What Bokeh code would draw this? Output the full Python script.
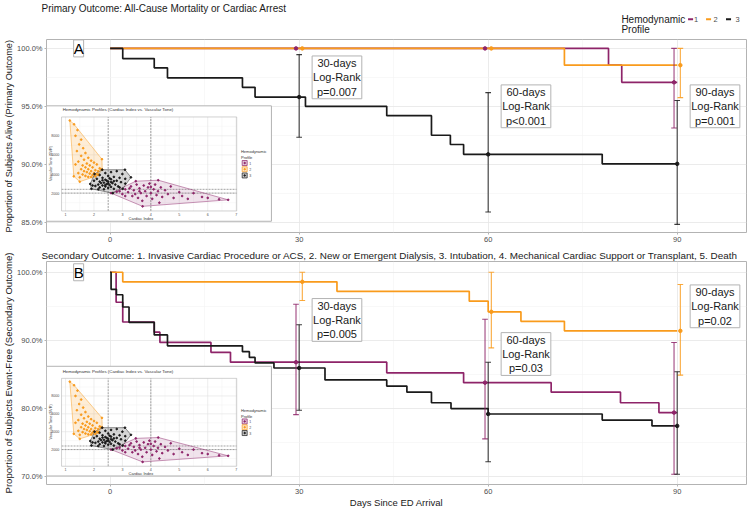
import numpy as np
from bokeh.plotting import figure
from bokeh.layouts import column
from bokeh.models import Range1d, FixedTicker, PrintfTickFormatter, Label
from bokeh.embed import file_html
from bokeh.resources import INLINE
from bokeh.core.properties import value

FONT = "Liberation Sans"
C1, C2, C3 = "#8E2469", "#F99B1C", "#1A1A1A"
GROUP_COLORS = [C1, C2, C3]
GROUP_NAMES = ["1", "2", "3"]

# ---------------- data ----------------
followup_end = 90
x_ticks = [0, 30, 60, 90]
x_minor = [15, 45, 75]
est_days = [30, 60, 90]
dodge = [-0.5, 0.5, 0.0]

# Panel A: primary outcome (KM step times / survival %)
a1_t = [0, 79.1, 81.2]
a1_s = [100, 98.55, 97.07]
a2_t = [0, 72.1]
a2_s = [100, 98.55]
a3_t = [0, 2, 7, 9.1, 21, 23, 31, 43.9, 51, 54, 56.1, 78.1]
a3_s = [100, 99.12, 98.32, 97.46, 96.64, 95.8, 95.0, 94.19, 92.5, 91.7, 90.85, 90.03]
a1_est = [100, 100, 97.07]
a1_lo = [100, 100, 93.13]
a1_hi = [100, 100, 100]
a2_est = [100, 100, 98.55]
a2_lo = [100, 100, 95.75]
a2_hi = [100, 100, 100]
a3_est = [95.8, 90.85, 90.03]
a3_lo = [92.33, 85.87, 84.8]
a3_hi = [99.46, 96.18, 95.5]
a_pvals = ["p=0.007", "p<0.001", "p=0.001"]
a_y_ticks = [85, 90, 95, 100]
a_y_minor = [87.5, 92.5, 97.5]

# Panel B: secondary outcome
b1_t = [0, 0.95, 2, 7, 7.9, 16, 19.1, 43.9, 56.1, 70, 81, 87.1]
b1_s = [100, 95.6, 92.7, 91.2, 89.7, 88.25, 86.8, 85.24, 83.8, 82.4, 80.85, 79.4]
b2_t = [0, 2, 36, 57, 60, 65.2, 72.1]
b2_s = [100, 98.6, 97.2, 95.75, 94.2, 92.8, 91.4]
b3_t = [0, 0.15, 1, 2, 3, 7, 9.1, 21, 22.1, 23, 26, 34.1, 43.9, 47.1, 51, 54.1, 60, 78.1, 86]
b3_s = [100, 97.5, 96.7, 94.9, 92.65, 90.8, 89.2, 88.35, 87.5, 86.7, 85.95, 84.2, 83.3, 82.4,
        80.85, 80.0, 79.2, 78.3, 77.45]
b1_est = [86.8, 83.8, 79.4]
b1_lo = [79.1, 75.55, 70.35]
b1_hi = [95.3, 93.1, 89.7]
b2_est = [98.6, 94.2, 91.4]
b2_lo = [95.85, 88.9, 84.9]
b2_hi = [100, 100, 98.2]
b3_est = [85.95, 79.2, 77.45]
b3_lo = [79.75, 72.2, 70.35]
b3_hi = [92.3, 86.8, 85.4]
b_pvals = ["p=0.005", "p=0.03", "p=0.02"]
b_y_ticks = [70, 80, 90, 100]
b_y_minor = [75, 85, 95]

# Inset scatter: cardiac index vs vascular tone (SVR)
ins1_x = [2.60, 3.47, 4.26, 6.72, 3.71, 2.9, 3.0, 3.1, 3.2, 3.3, 3.35, 3.4, 3.5, 3.55, 3.6, 3.65,
          3.7, 3.75, 3.8, 3.85, 3.9, 3.95, 4.0, 4.05, 4.1, 4.15, 4.2, 4.25, 4.3, 4.35, 4.4, 4.5,
          4.6, 4.7, 4.8, 5.0, 5.1, 5.3, 5.5, 5.8, 6.0, 6.4, 3.25, 3.45, 3.1, 2.8, 3.6, 4.0]
ins1_y = [2000, 3250, 3350, 1300, 620, 2200, 1900, 2400, 2100, 2700, 1700, 2300, 2900, 1500, 2500,
          2000, 1200, 2800, 2200, 1700, 2600, 3000, 2000, 1400, 2400, 2900, 1800, 2200, 1000, 2600,
          1600, 2300, 1900, 2700, 1500, 2100, 1700, 1400, 2000, 1600, 1500, 1350, 2500, 1900, 1700,
          2150, 2200, 2650]
ins2_x = [1.15, 2.28, 2.29, 2.15, 1.50, 1.29, 1.30, 1.42, 1.35, 1.55, 1.48, 1.62, 1.40, 1.70, 1.55,
          1.80, 1.65, 1.45, 1.90, 1.75, 2.00, 1.60, 1.85, 2.10, 1.70, 1.95, 2.20, 1.55, 1.80, 2.05,
          1.65, 1.90, 2.15, 1.75, 2.00, 1.85, 2.10, 1.60, 1.95, 2.15, 1.70, 1.80, 2.05, 1.50, 1.90,
          1.35, 2.25, 1.45]
ins2_y = [9600, 5550, 4450, 3900, 3200, 3760, 9200, 8600, 8000, 7600, 7100, 6700, 6400, 6200, 5900,
          5700, 5500, 5300, 5400, 5100, 5200, 4900, 4900, 5000, 4700, 4700, 4600, 4500, 4500, 4400,
          4300, 4300, 4300, 4200, 4100, 4050, 4000, 3950, 3900, 3950, 3800, 3700, 3750, 3650, 3700,
          5000, 4500, 4100]
ins3_x = [2.02, 2.29, 3.09, 3.30, 3.01, 2.66, 1.91, 1.87, 2.2, 2.4, 2.6, 2.8, 3.0, 2.5, 2.3, 2.7,
          2.9, 3.1, 2.1, 2.4, 2.6, 2.8, 2.2, 2.5, 2.35, 2.65, 2.45, 2.15, 2.55, 2.75, 2.3, 2.05,
          2.4, 2.6, 2.85, 2.2, 2.5, 2.7, 2.35, 2.15, 2.45, 2.55, 2.25, 2.95, 3.1, 2.9, 2.0, 1.95,
          2.3, 2.5, 2.4, 2.6, 2.7]
ins3_y = [4000, 4450, 4450, 3650, 2450, 2000, 2450, 2960, 3900, 4100, 4200, 4300, 4000, 3800, 3600,
          3700, 3600, 3500, 3500, 3400, 3450, 3300, 3200, 3200, 3100, 3050, 2950, 2900, 2850, 2900,
          2800, 2750, 2700, 2650, 2700, 2600, 2550, 2450, 2400, 2400, 3300, 3550, 3050, 3150, 3000,
          2600, 3300, 2800, 3350, 3000, 2850, 3150, 3250]
ins_x_ticks = [1, 2, 3, 4, 5, 6, 7]
ins_y_ticks = [2000, 4000, 6000, 8000]
ins_x_minor = [1.5, 2.5, 3.5, 4.5, 5.5, 6.5]
ins_y_minor = [1000, 3000, 5000, 7000, 9000]
ins_ci_cut = [2.5, 4.0]
ins_svr_cut = [2000, 2400]

# ---------------- layout constants ----------------
TOTAL_W = 748
X_RANGE = (-10.1, 101)
LEFT, RIGHT = 45, 2
FW = TOTAL_W - LEFT - RIGHT
PX_PER_DAY = FW / (X_RANGE[1] - X_RANGE[0])
HEADER_H = 36
INSET_SRC_X = (0.86, 7.02)
INSET_SRC_Y = (135, 9970)


def px_to_day(px):
    return X_RANGE[0] + (px - LEFT) / PX_PER_DAY


def convex_hull(xs, ys):
    pts = sorted(set(zip(xs, ys)))

    def cross(o, a, b):
        return (a[0] - o[0]) * (b[1] - o[1]) - (a[1] - o[1]) * (b[0] - o[0])

    lower, upper = [], []
    for pt in pts:
        while len(lower) >= 2 and cross(lower[-2], lower[-1], pt) <= 0:
            lower.pop()
        lower.append(pt)
    for pt in reversed(pts):
        while len(upper) >= 2 and cross(upper[-2], upper[-1], pt) <= 0:
            upper.pop()
        upper.append(pt)
    h = lower[:-1] + upper[:-1]
    return [q[0] for q in h], [q[1] for q in h]


def add_inset(p, outer, inner):
    p.quad(left=[outer[0]], right=[outer[1]], bottom=[outer[2]], top=[outer[3]],
           fill_color="white", line_color="#b3b3b3", line_width=1)
    s = p.subplot(x_source=Range1d(*INSET_SRC_X), y_source=Range1d(*INSET_SRC_Y),
                  x_target=Range1d(inner[0], inner[1]), y_target=Range1d(inner[2], inner[3]))
    x0, x1 = INSET_SRC_X
    y0, y1 = INSET_SRC_Y
    s.segment(x0=ins_x_minor, y0=y0, x1=ins_x_minor, y1=y1, line_color="#f2f2f2", line_width=0.5)
    s.segment(x0=x0, y0=ins_y_minor, x1=x1, y1=ins_y_minor, line_color="#f2f2f2", line_width=0.5)
    s.segment(x0=ins_x_ticks, y0=y0, x1=ins_x_ticks, y1=y1, line_color="#e3e3e3", line_width=0.6)
    s.segment(x0=x0, y0=ins_y_ticks, x1=x1, y1=ins_y_ticks, line_color="#e3e3e3", line_width=0.6)
    s.segment(x0=ins_ci_cut, y0=y0, x1=ins_ci_cut, y1=y1, line_color="#666666",
              line_width=0.6, line_dash="2 1")
    s.segment(x0=x0, y0=ins_svr_cut, x1=x1, y1=ins_svr_cut, line_color="#666666",
              line_width=0.6, line_dash="2 1")
    for xs, ys, c, fc, fa in [(ins1_x, ins1_y, C1, C1, 0.13), (ins2_x, ins2_y, C2, C2, 0.18),
                              (ins3_x, ins3_y, C3, "#8c8c8c", 0.35)]:
        hx, hy = convex_hull(xs, ys)
        s.patch(hx, hy, fill_color=fc, fill_alpha=fa, line_color=c, line_width=0.6,
                line_alpha=0.8)
    for xs, ys, c in [(ins1_x, ins1_y, C1), (ins2_x, ins2_y, C2), (ins3_x, ins3_y, C3)]:
        s.scatter(xs, ys, size=1.7, color=c)
    s.quad(left=[x0], right=[x1], bottom=[y0], top=[y1], fill_color=None,
           line_color="#b3b3b3", line_width=0.6)
    tf = value(FONT)
    s.text(x=[0.9], y=[10700], text=["Hemodynamic Profiles (Cardiac Index vs. Vascular Tone)"],
           text_font=tf, text_font_size=value("4.4px"), text_color="#333333",
           text_align="left", text_baseline="middle")
    s.text(x=ins_x_ticks, y=[-60] * len(ins_x_ticks), text=[str(t) for t in ins_x_ticks],
           text_font=tf, text_font_size=value("3.6px"), text_color="#4d4d4d",
           text_align="center", text_baseline="top")
    s.text(x=[3.65], y=[-650], text=["Cardiac Index"], text_font=tf,
           text_font_size=value("4px"), text_color="#333333", text_align="center",
           text_baseline="middle")
    s.text(x=[0.78] * len(ins_y_ticks), y=ins_y_ticks, text=[str(t) for t in ins_y_ticks],
           text_font=tf, text_font_size=value("3.6px"), text_color="#4d4d4d",
           text_align="right", text_baseline="middle")
    s.text(x=[0.5], y=[5100], text=["Vascular Tone (SVR)"], angle=np.pi / 2, text_font=tf,
           text_font_size=value("3.8px"), text_color="#333333", text_align="center",
           text_baseline="middle")
    s.text(x=[7.17, 7.17], y=[6350, 5700], text=["Hemodynamic", "Profile"], text_font=tf,
           text_font_size=value("4px"), text_color="#333333", text_align="left",
           text_baseline="middle")
    key_y = [5150, 4500, 3850]
    s.scatter([7.3] * 3, key_y, marker="square", size=5, fill_color=GROUP_COLORS,
              fill_alpha=0.25, line_color=GROUP_COLORS, line_width=0.7)
    s.scatter([7.3] * 3, key_y, size=1.5, color=GROUP_COLORS)
    s.text(x=[7.46] * 3, y=key_y, text=GROUP_NAMES, text_font=tf, text_font_size=value("3.6px"),
           text_color="#4d4d4d", text_align="left", text_baseline="middle")


def style_title(p, text, size):
    p.title.text = text
    p.title.text_font = FONT
    p.title.text_font_size = size
    p.title.text_font_style = "normal"
    p.title.text_color = "#1a1a1a"
    p.title.align = "left"
    p.title.standoff = 1
    p.title.offset = -5


def make_panel(title, ylab, ylab_size, y_range, y_ticks, y_minor, curves, ests, pvals, label_y,
               letter, height, top, bottom, inset_outer, inset_inner, xlabel=None):
    p = figure(width=TOTAL_W, height=height, x_range=Range1d(*X_RANGE),
               y_range=Range1d(*y_range), output_backend="svg", toolbar_location=None,
               min_border_left=LEFT, min_border_right=RIGHT, min_border_top=top,
               min_border_bottom=bottom, background_fill_color="white",
               border_fill_color="white")
    if title:
        style_title(p, title, "9.9px")
    p.outline_line_color = "#b3b3b3"
    p.outline_line_width = 1

    p.xaxis.ticker = FixedTicker(ticks=x_ticks, minor_ticks=x_minor)
    p.yaxis.ticker = FixedTicker(ticks=y_ticks, minor_ticks=y_minor)
    p.yaxis.formatter = PrintfTickFormatter(format="%.1f%%")
    for ax in (p.xaxis[0], p.yaxis[0]):
        ax.axis_line_color = None
        ax.major_tick_line_color = "#b3b3b3"
        ax.major_tick_in = 0
        ax.major_tick_out = 2
        ax.minor_tick_line_color = None
        ax.major_label_text_font = FONT
        ax.major_label_text_font_size = "7.5px"
        ax.major_label_text_color = "#4d4d4d"
        ax.major_label_standoff = 0
        ax.axis_label_text_font = FONT
        ax.axis_label_text_font_style = "normal"
        ax.axis_label_text_color = "#1a1a1a"
    p.yaxis.axis_label = ylab
    p.yaxis.axis_label_text_font_size = ylab_size
    p.yaxis.axis_label_standoff = 0
    if xlabel:
        p.xaxis.axis_label = xlabel
        p.xaxis.axis_label_text_font_size = "9.5px"
        p.xaxis.axis_label_standoff = 0
    p.grid.grid_line_color = "#e6e6e6"
    p.grid.grid_line_width = 0.8
    p.grid.minor_grid_line_color = "#f3f3f3"
    p.grid.minor_grid_line_width = 0.6

    for (t, s), c in zip(curves, GROUP_COLORS):
        xs = list(t) + [followup_end]
        ys = list(s) + [s[-1]]
        p.step(xs, ys, mode="after", line_color=c, line_width=1.7)

    add_inset(p, inset_outer, inset_inner)

    for i, ((est, lo, hi), c) in enumerate(zip(ests, GROUP_COLORS)):
        xs = [d + dodge[i] for d in est_days]
        sel = [k for k in range(len(xs)) if hi[k] - lo[k] > 0.01]
        ex = [xs[k] for k in sel]
        elo = [lo[k] for k in sel]
        ehi = [hi[k] for k in sel]
        p.segment(x0=ex, y0=elo, x1=ex, y1=ehi, line_color=c, line_width=1.1, line_alpha=0.85)
        p.segment(x0=[v - 0.45 for v in ex], y0=ehi, x1=[v + 0.45 for v in ex], y1=ehi,
                  line_color=c, line_width=1.1, line_alpha=0.85)
        p.segment(x0=[v - 0.45 for v in ex], y0=elo, x1=[v + 0.45 for v in ex], y1=elo,
                  line_color=c, line_width=1.1, line_alpha=0.85)
        p.scatter(xs, est, size=3.5, color=c)

    for d, pv, ly in zip(est_days, pvals, label_y):
        p.add_layout(Label(x=d + 6, y=ly, text=f"{d}-days\nLog-Rank\n{pv}",
                           text_align="center", text_baseline="middle", text_font=FONT,
                           text_font_size="11px", text_color="#1a1a1a",
                           text_line_height=1.2, border_line_color="#b3b3b3",
                           background_fill_color="white", background_fill_alpha=0.85,
                           padding=1))
    p.add_layout(Label(x=-5, y=100, text=letter,
                       text_align="center", text_baseline="middle", text_font=FONT,
                       text_font_size="15px", text_color="#000000",
                       border_line_color="#b3b3b3", background_fill_color="white",
                       padding=0))
    return p


# ---------------- header (title + legend) ----------------
hdr = figure(width=TOTAL_W, height=HEADER_H, x_range=Range1d(*X_RANGE),
             y_range=Range1d(0, 24), output_backend="svg", toolbar_location=None,
             x_axis_location=None, y_axis_location=None, min_border_left=LEFT,
             min_border_right=RIGHT, min_border_top=0, min_border_bottom=0,
             background_fill_color="white", border_fill_color="white")
style_title(hdr, "Primary Outcome: All-Cause Mortality or Cardiac Arrest", "10px")
hdr.title.standoff = 0
hdr.grid.visible = False
hdr.outline_line_color = None
hdr.text(x=[px_to_day(620.7)] * 2, y=[18, 7], text=["Hemodynamic", "Profile"],
         text_font=value(FONT), text_font_size=value("10px"), text_color="#1a1a1a",
         text_align="left", text_baseline="middle")
key_x = [px_to_day(v) for v in (690, 708, 728)]
lab_x = [px_to_day(v) for v in (695.5, 715, 737)]
hdr.segment(x0=[k - 0.4 for k in key_x], y0=[18] * 3, x1=[k + 0.4 for k in key_x], y1=[18] * 3,
            line_color=GROUP_COLORS, line_width=2)
hdr.text(x=lab_x, y=[18] * 3, text=GROUP_NAMES, text_font=value(FONT),
         text_font_size=value("7.5px"), text_color="#4d4d4d", text_align="center",
         text_baseline="middle")

pA = make_panel(None, "Proportion of Subjects Alive (Primary Outcome)", "9.2px",
                (84.1, 100.77), a_y_ticks, a_y_minor,
                [(a1_t, a1_s), (a2_t, a2_s), (a3_t, a3_s)],
                [(a1_est, a1_lo, a1_hi), (a2_est, a2_lo, a2_hi), (a3_est, a3_lo, a3_hi)],
                a_pvals, [97.5, 95.0, 95.0], "A", 208, 3, 12,
                (-10.1, 25.6, 85.07, 95.04), (-7.71, 20.09, 85.96, 94.08))

pB = make_panel("Secondary Outcome: 1. Invasive Cardiac Procedure or ACS, 2. New or Emergent "
                "Dialysis, 3. Intubation, 4. Mechanical Cardiac Support or Transplant, 5. Death",
                "Proportion of Subjects Event-Free (Secondary Outcome)", "9.6px",
                (68.85, 101.58), b_y_ticks, b_y_minor,
                [(b1_t, b1_s), (b2_t, b2_s), (b3_t, b3_s)],
                [(b1_est, b1_lo, b1_hi), (b2_est, b2_lo, b2_hi), (b3_est, b3_lo, b3_hi)],
                b_pvals, [93.0, 88.0, 95.0], "B", 266, 17, 24,
                (-10.1, 25.6, 70.1, 86.2), (-7.71, 20.09, 71.53, 84.43),
                xlabel="Days Since ED Arrival")

layout = column(hdr, pA, pB, spacing=0)
open("out.html", "w").write(file_html(layout, INLINE))
